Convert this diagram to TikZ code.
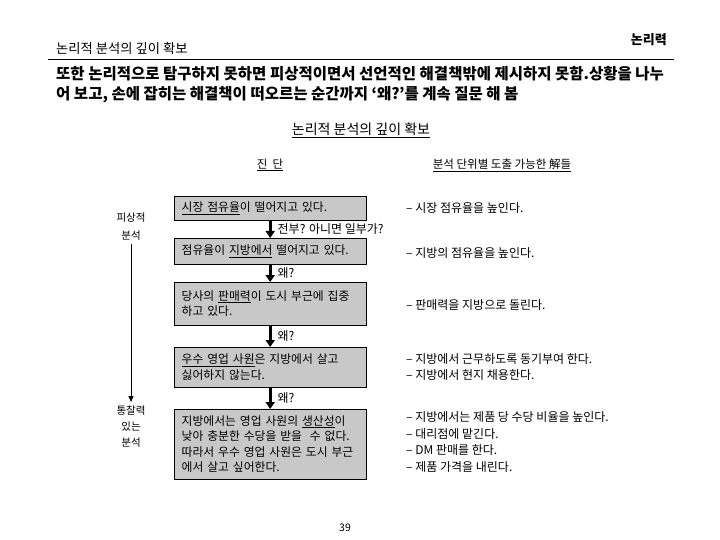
\documentclass[tikz,border=0pt]{standalone}
\usepackage{fontspec}
\setmainfont{Noto Sans CJK KR}
\usetikzlibrary{arrows.meta}

\definecolor{boxgray}{RGB}{200,200,200}

\tikzset{
  causebox/.style={draw=black, fill=boxgray, anchor=north west, minimum width=192pt,
    text width=177pt, inner xsep=7.5pt, inner ysep=2pt, align=left,
    font=\fontsize{11.8}{15.5}\selectfont},
  remedy/.style={anchor=west, inner sep=0pt, align=left,
    font=\fontsize{12}{16.5}\selectfont},
  whyarrow/.style={-{Triangle[length=7pt,width=9pt]}, line width=3pt},
  whylabel/.style={midway, right=6pt, inner sep=0pt, font=\fontsize{12}{13}\selectfont},
  leadline/.style={anchor=west, inner sep=0pt, font=\fontsize{15.5}{18}\selectfont\bfseries},
}

\begin{document}
\begin{tikzpicture}[x=1pt, y=-1pt]
  \useasboundingbox (0,0) rectangle (720,540);

  % --- header ---
  \node[anchor=west, inner sep=0pt, font=\fontsize{13.3}{15}\selectfont] (hdr) at (56,48) {논리적 분석의 깊이 확보};
  \node[anchor=east, inner sep=0pt, font=\fontsize{13}{15}\selectfont\bfseries] (topic) at (667,40) {논리력};
  \draw[line width=1pt] (48,60) -- (674,60);
  \node[leadline] (lead1) at (56,74) {또한 논리적으로 탐구하지 못하면 피상적이면서 선언적인 해결책밖에 제시하지 못함.상황을 나누};
  \node[leadline] (lead2) at (56,95) {어 보고, 손에 잡히는 해결책이 떠오르는 순간까지 ‘왜?’를 계속 질문 해 봄};

  % --- column titles ---
  \node[font=\fontsize{14}{16}\selectfont] (sub) at (361,130) {\underline{논리적 분석의 깊이 확보}};
  \node[font=\fontsize{11.5}{13}\selectfont] (diag) at (270,165) {\underline{진\ \ 단}};
  \node[font=\fontsize{11.5}{13}\selectfont] (sols) at (502,165) {\underline{분석 단위별 도출 가능한 解들}};

  % --- cause chain ---
  \node[causebox, minimum height=24pt] (c1) at (174,196) {\underline{시장 점유율}이 떨어지고 있다.};
  \node[causebox, minimum height=26pt] (c2) at (174,238) {점유율이 \underline{지방에서} 떨어지고 있다.};
  \node[causebox, minimum height=43pt] (c3) at (174,282) {당사의 \underline{판매력}이 도시 부근에 집중\\하고 있다.};
  \node[causebox, minimum height=40pt] (c4) at (174,347) {\underline{우수 영업 사원}은 지방에서 살고\\싫어하지 않는다.};
  \node[causebox, minimum height=70pt] (c5) at (174,409) {지방에서는 영업 사원의 \underline{생산성}이\\낮아 충분한 수당을 받을 \ 수 없다.\\따라서 우수 영업 사원은 도시 부근\\에서 살고 싶어한다.};

  \draw[whyarrow] (c1.south) -- (c2.north) node[whylabel] {전부? 아니면 일부가?};
  \draw[whyarrow] (c2.south) -- (c3.north) node[whylabel] {왜?};
  \draw[whyarrow] (c3.south) -- (c4.north) node[whylabel] {왜?};
  \draw[whyarrow] (c4.south) -- (c5.north) node[whylabel] {왜?};

  % --- depth axis ---
  \node[align=center, font=\fontsize{10.5}{18}\selectfont] (shallow) at (131,227) {피상적\\분석};
  \node[align=center, font=\fontsize{10.5}{16}\selectfont, anchor=north] (deep) at (131,402) {통찰력\\있는\\분석};
  \draw[line width=0.8pt, -{Triangle[length=6pt,width=5pt]}] (shallow.south) -- (deep.north);

  % --- remedies ---
  \node[remedy] (r1) at (406,208) {– 시장 점유율을 높인다.};
  \node[remedy] (r2) at (406,253) {– 지방의 점유율을 높인다.};
  \node[remedy] (r3) at (406,305) {– 판매력을 지방으로 돌린다.};
  \node[remedy] (r4) at (406,367) {– 지방에서 근무하도록 동기부여 한다.\\– 지방에서 현지 채용한다.};
  \node[remedy] (r5) at (406,442) {– 지방에서는 제품 당 수당 비율을 높인다.\\– 대리점에 맡긴다.\\– DM 판매를 한다.\\– 제품 가격을 내린다.};

  % --- page number ---
  \node[font=\fontsize{10.5}{12}\selectfont] (page) at (345,528) {39};

\end{tikzpicture}
\end{document}
